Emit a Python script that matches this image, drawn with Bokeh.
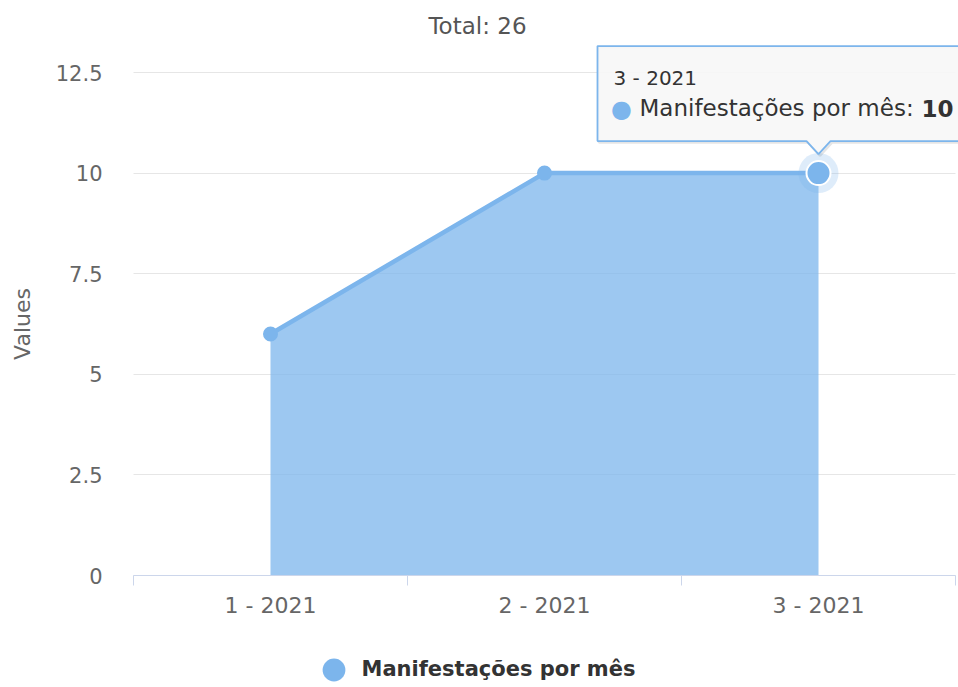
import math
from bokeh.plotting import figure
from bokeh.models import (FixedTicker, NumeralTickFormatter, Label, Legend, LegendItem,
                          PolyAnnotation, ColumnDataSource, Range1d)
from bokeh.embed import file_html
from bokeh.resources import INLINE

# ---- data ----
categories = ["1 - 2021", "2 - 2021", "3 - 2021"]
values = [6, 10, 10]
series_name = "Manifestações por mês"
y_ticks = [0, 2.5, 5, 7.5, 10, 12.5]
y_max = 12.5
y_axis_title = "Values"
hover_index = 2          # point whose tooltip is shown

# ---- layout (pixels) ----
W, H = 958, 687
PL, PR, PT, PB = 133, 955, 72, 575     # plotting area inside the canvas

FONT = "DejaVu Sans"
BLUE = "#7cb5ec"

n = len(categories)
ppx = (PR - PL) / n
ppy = (PB - PT) / y_max
x_start = -0.5 - PL / ppx
x_end = n - 0.5 + (W - PR) / ppx
y_end = y_max + PT / ppy
y_start = -(H - PB) / ppy

xs = list(range(n))
src = ColumnDataSource(dict(x=xs, y=values, base=[0] * n))
normal_idx = [i for i in xs if i != hover_index]
src_pts = ColumnDataSource(dict(x=[xs[i] for i in normal_idx], y=[values[i] for i in normal_idx]))
src_hover = ColumnDataSource(dict(x=[xs[hover_index]], y=[values[hover_index]]))

p = figure(width=W, height=H, output_backend="svg", toolbar_location=None, title=None,
           x_range=Range1d(x_start, x_end), y_range=Range1d(y_start, y_end),
           min_border=0, min_border_left=0, min_border_right=0, min_border_top=0,
           min_border_bottom=0, outline_line_color=None,
           background_fill_color="white", border_fill_color="white")

# x axis (drawn at y = 0)
xax = p.xaxis[0]
xax.fixed_location = 0
xax.bounds = (-0.5, n - 0.5)
xax.ticker = FixedTicker(ticks=xs, minor_ticks=[i - 0.5 for i in range(n + 1)])
xax.major_label_overrides = {i: c for i, c in enumerate(categories)}
xax.major_tick_line_color = None
xax.major_tick_out = 0
xax.major_tick_in = 0
xax.minor_tick_line_color = "#ccd6eb"
xax.minor_tick_out = 10
xax.minor_tick_in = 0
xax.axis_line_color = "#ccd6eb"
xax.major_label_text_font = FONT
xax.major_label_text_font_size = "22px"
xax.major_label_text_color = "#666666"
xax.major_label_standoff = 7
p.xgrid.visible = False

# y axis (drawn at the left edge of the plotting area)
yax = p.yaxis[0]
yax.fixed_location = -0.5
yax.ticker = FixedTicker(ticks=y_ticks, minor_ticks=[])
yax.formatter = NumeralTickFormatter(format="0.[0]")
yax.axis_line_color = None
yax.major_tick_line_color = None
yax.minor_tick_line_color = None
yax.major_tick_out = 0
yax.major_tick_in = 0
yax.major_label_standoff = 31
yax.major_label_text_font = FONT
yax.major_label_text_font_size = "21px"
yax.major_label_text_color = "#666666"

yg = p.ygrid[0]
yg.ticker = FixedTicker(ticks=y_ticks, minor_ticks=[])
yg.grid_line_color = "#e6e6e6"
yg.grid_line_width = 1
try:
    yg.cross_bounds = (-0.5, n - 0.5)
except AttributeError:
    pass

# y axis title
p.add_layout(Label(x=-0.5, y=y_max / 2, x_offset=-111, text=y_axis_title, angle=math.pi / 2,
                   text_font=FONT, text_font_size="22px", text_color="#666666",
                   text_align="center", text_baseline="middle"))

# series
p.varea(x="x", y1="base", y2="y", source=src, fill_color=BLUE, fill_alpha=0.75)
p.line(x="x", y="y", source=src, line_color=BLUE, line_width=4.5)
pts = p.scatter(x="x", y="y", source=src_pts, size=15, fill_color=BLUE, line_color=BLUE, line_width=0)
p.scatter(x="x", y="y", source=src_hover, size=40, fill_color=BLUE, fill_alpha=0.25, line_color=None)
p.scatter(x="x", y="y", source=src_hover, size=24, fill_color=BLUE, line_color="white", line_width=2)

# tooltip (anchored to the hovered point, offsets in pixels)
hx, hy = xs[hover_index], values[hover_index]
shape_px = [(-221, 32), (-221, 127), (170, 127), (170, 32), (12, 32), (0, 19), (-12, 32)]
p.add_layout(PolyAnnotation(xs=[hx + (a + 1.5) / ppx for a, b in shape_px],
                            ys=[hy + (b - 1.5) / ppy for a, b in shape_px],
                            fill_alpha=0, line_color="black", line_alpha=0.1, line_width=2.5))
p.add_layout(PolyAnnotation(xs=[hx + a / ppx for a, b in shape_px],
                            ys=[hy + b / ppy for a, b in shape_px],
                            fill_color="#f7f7f7", fill_alpha=0.92,
                            line_color=BLUE, line_alpha=1.0, line_width=1.8))
p.add_layout(Label(x=hx, y=hy, x_offset=-205, y_offset=95, text=categories[hover_index],
                   text_font=FONT, text_font_size="20px", text_color="#333333",
                   text_baseline="middle", text_align="left"))
p.add_layout(Label(x=hx, y=hy, x_offset=-197, y_offset=64, text="\u25cf",
                   text_font=FONT, text_font_size="24px", text_color=BLUE,
                   text_baseline="middle", text_align="center"))
p.add_layout(Label(x=hx, y=hy, x_offset=-179, y_offset=65, text=series_name + ": ",
                   text_font=FONT, text_font_size="23px", text_color="#333333",
                   text_baseline="middle", text_align="left"))
p.add_layout(Label(x=hx, y=hy, x_offset=135, y_offset=65, text=str(values[hover_index]),
                   text_font=FONT, text_font_size="23px", text_color="#333333",
                   text_font_style="bold", text_baseline="middle", text_align="right"))

# title
p.add_layout(Label(x=W / 2 - 2, y=H - 25, x_units="screen", y_units="screen",
                   text="Total: %d" % sum(values), text_font=FONT, text_font_size="23px",
                   text_color="#555555", text_align="center", text_baseline="middle"))

# legend
GLYPH = 57
legend = Legend(items=[LegendItem(label=series_name, renderers=[pts])],
                location=(333 - GLYPH / 2, H - 669 - GLYPH / 2), orientation="horizontal",
                glyph_width=GLYPH, glyph_height=GLYPH, label_standoff=0, padding=0, margin=0,
                spacing=0, border_line_color=None, background_fill_alpha=0,
                label_text_font=FONT, label_text_font_size="21px",
                label_text_font_style="bold", label_text_color="#333333")
p.add_layout(legend)

open("out.html", "w").write(file_html(p, INLINE))
